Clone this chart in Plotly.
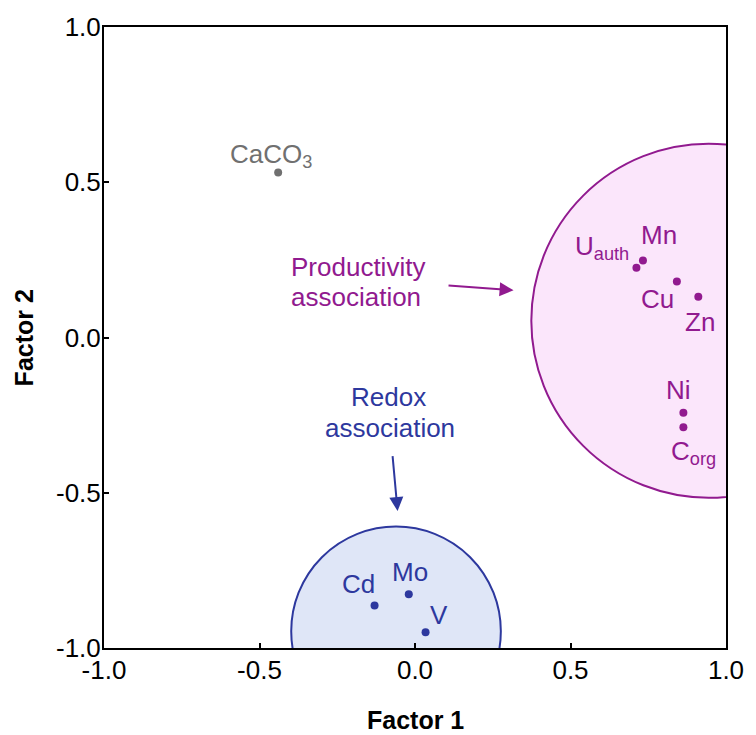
import plotly.graph_objects as go

# ---- data ----
prod_names = ["U<sub>auth</sub>", "Mn", "Cu", "Zn", "Ni", "C<sub>org</sub>"]
prod_f1 = [0.712, 0.733, 0.842, 0.911, 0.863, 0.863]
prod_f2 = [0.225, 0.248, 0.180, 0.131, -0.242, -0.289]

redox_names = ["Cd", "Mo", "V"]
redox_f1 = [-0.130, -0.020, 0.034]
redox_f2 = [-0.863, -0.827, -0.949]

other_names = ["CaCO<sub>3</sub>"]
other_f1 = [-0.440]
other_f2 = [0.531]

# association circles: centre (f1, f2) and radius
prod_circle = (0.944, 0.054, 0.570)
redox_circle = (-0.061, -0.946, 0.337)

tick_vals = [-1.0, -0.5, 0.0, 0.5, 1.0]
tick_text = ["-1.0", "-0.5", "0.0", "0.5", "1.0"]

# ---- styles ----
PURPLE = "#911A8F"
PURPLE_FILL = "#FBE6FB"
BLUE = "#2D389E"
BLUE_FILL = "#DFE6F7"
GREY = "#707070"
FONT = "Liberation Sans, Arial, sans-serif"
FS = 26

# label offsets in pixels (dx right, dy down) relative to each point
prod_off = [(-34, -20.5), (16, -25.7), (-19.6, 17.7), (1.7, 25.2), (-5, -22.2), (10.3, 25.3)]
redox_off = [(-15.7, -21.3), (1.5, -22.7), (13.5, -17.5)]
other_off = [(-7, -17.3)]

fig = go.Figure()

cx, cy, r = prod_circle
fig.add_shape(type="circle", xref="x", yref="y", x0=cx - r, x1=cx + r, y0=cy - r, y1=cy + r,
              line=dict(color=PURPLE, width=2), fillcolor=PURPLE_FILL, layer="below")
cx, cy, r = redox_circle
fig.add_shape(type="circle", xref="x", yref="y", x0=cx - r, x1=cx + r, y0=cy - r, y1=cy + r,
              line=dict(color=BLUE, width=2), fillcolor=BLUE_FILL, layer="below")

for xs, ys, col in [(prod_f1, prod_f2, PURPLE), (redox_f1, redox_f2, BLUE), (other_f1, other_f2, GREY)]:
    fig.add_trace(go.Scatter(x=xs, y=ys, mode="markers",
                             marker=dict(size=8, color=col), showlegend=False, hoverinfo="skip"))

annotations = []
for names, xs, ys, offs, col in [(prod_names, prod_f1, prod_f2, prod_off, PURPLE),
                                 (redox_names, redox_f1, redox_f2, redox_off, BLUE),
                                 (other_names, other_f1, other_f2, other_off, GREY)]:
    for n, x, y, (dx, dy) in zip(names, xs, ys, offs):
        annotations.append(dict(x=x, y=y, xref="x", yref="y", text=n, showarrow=False,
                                xanchor="center", yanchor="middle", xshift=dx, yshift=-dy,
                                font=dict(family=FONT, size=FS, color=col)))

# association texts
for txt, x, y, col in [("Productivity", -0.183, 0.228, PURPLE), ("association", -0.189, 0.132, PURPLE),
                       ("Redox", -0.084, -0.192, BLUE), ("association", -0.081, -0.292, BLUE)]:
    annotations.append(dict(x=x, y=y, xref="x", yref="y", text=txt, showarrow=False,
                            xanchor="center", yanchor="middle",
                            font=dict(family=FONT, size=FS, color=col)))

# arrows
for (tx, ty, hx, hy, col) in [(0.103, 0.168, 0.317, 0.152, PURPLE), (-0.0725, -0.377, -0.056, -0.559, BLUE)]:
    annotations.append(dict(x=hx, y=hy, ax=tx, ay=ty, xref="x", yref="y", axref="x", ayref="y",
                            text="", showarrow=True, arrowhead=2, arrowsize=1.4, arrowwidth=2,
                            arrowcolor=col, standoff=0, startstandoff=0))

# axis titles
annotations.append(dict(x=0.5, y=-0.116, xref="paper", yref="paper", text="<b>Factor 1</b>",
                        showarrow=False, xanchor="center", yanchor="middle",
                        font=dict(family=FONT, size=25, color="black")))
annotations.append(dict(x=-0.1288, y=0.5, xref="paper", yref="paper", text="<b>Factor 2</b>",
                        showarrow=False, xanchor="center", yanchor="middle", textangle=-90,
                        font=dict(family=FONT, size=25, color="black")))

axis_common = dict(range=[-1, 1], tickvals=tick_vals, ticktext=tick_text, ticks="inside", ticklen=5,
                   tickwidth=1.5, tickcolor="black", showline=True, linecolor="black", linewidth=2,
                   mirror=True, showgrid=False, zeroline=False,
                   tickfont=dict(family=FONT, size=FS, color="black"))

fig.update_layout(
    width=756, height=735,
    margin=dict(l=104, r=23, t=23, b=87),
    paper_bgcolor="white", plot_bgcolor="white",
    xaxis=dict(**axis_common, ticklabelstandoff=-2),
    yaxis=dict(**axis_common, ticklabelstandoff=-4),
    annotations=annotations,
    showlegend=False,
)

fig.write_html("out.html", config={"displayModeBar": False},
               post_script="document.body.style.margin='0';document.body.style.overflow='hidden';")
